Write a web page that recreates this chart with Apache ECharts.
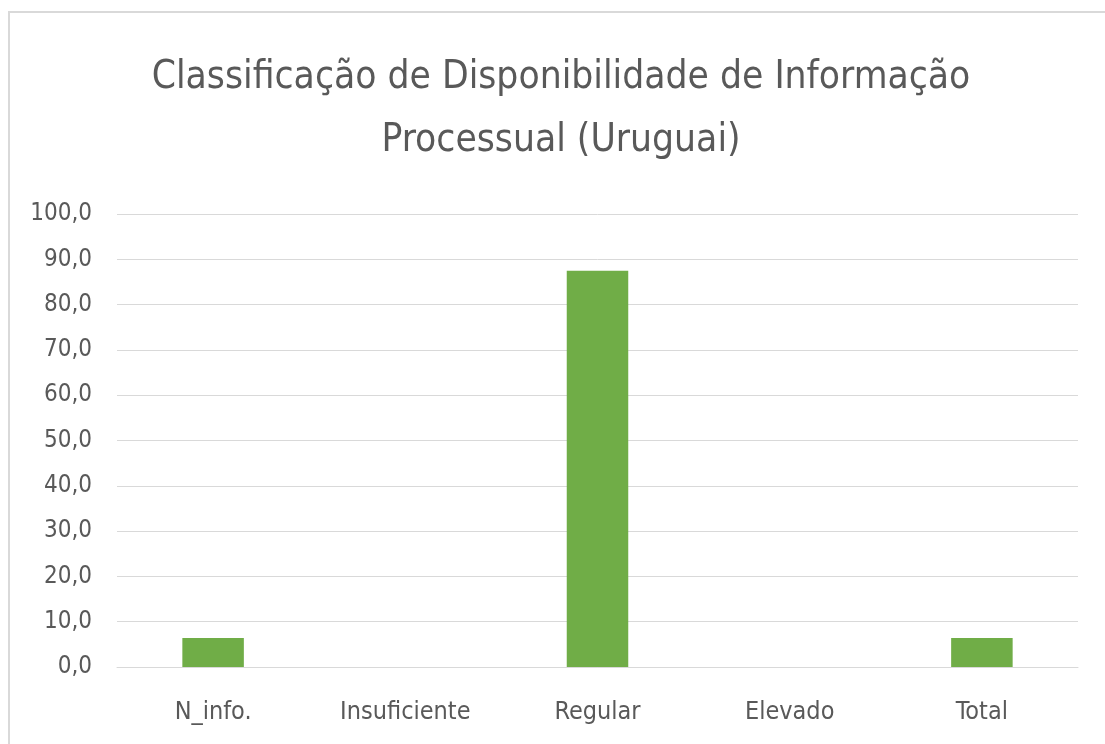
<!DOCTYPE html>
<html>
<head>
<meta charset="utf-8">
<script src="https://cdn.jsdelivr.net/npm/echarts@6/dist/echarts.min.js"></script>
<style>
  html, body { margin: 0; padding: 0; background: #fff; }
  #chart { width: 1105px; height: 744px; }
</style>
</head>
<body>
<div id="chart"></div>
<script>
// Classificação de disponibilidade de informação processual – Uruguai (%)
const titleText = 'Classificação de Disponibilidade de Informação\nProcessual (Uruguai)';
const categories = ['N_info.', 'Insuficiente', 'Regular', 'Elevado', 'Total'];
const values = [6.4, 0, 87.5, 0, 6.4];
const yTicks = { min: 0, max: 100, step: 10 };

const FONT = '"Liberation Sans Narrow", "DejaVu Sans Condensed", sans-serif';
const chart = echarts.init(document.getElementById('chart'));

chart.setOption({
  animation: false,
  backgroundColor: '#ffffff',
  graphic: [{
    type: 'rect',
    shape: { x: 9, y: 12, width: 1200, height: 800 },
    style: { fill: 'none', stroke: '#d9d9d9', lineWidth: 2 },
    silent: true
  }, {
    // chart title, centred over the plot area
    type: 'text',
    x: 561,
    y: 46,
    silent: true,
    style: {
      text: titleText,
      align: 'center',
      verticalAlign: 'top',
      fontFamily: FONT,
      fontSize: 38.6,
      fontWeight: 'normal',
      fill: '#595959',
      lineHeight: 63
    }
  }],
  grid: { left: 117, right: 27, top: 214, bottom: 77, containLabel: false },
  xAxis: {
    type: 'category',
    data: categories,
    axisLine: { show: true, lineStyle: { color: '#d9d9d9', width: 1 } },
    axisTick: { show: false },
    axisLabel: {
      fontFamily: FONT, fontSize: 25, color: '#595959', margin: 33
    }
  },
  yAxis: {
    type: 'value',
    min: yTicks.min,
    max: yTicks.max,
    interval: yTicks.step,
    axisLine: { show: false },
    axisTick: { show: false },
    splitLine: { lineStyle: { color: '#d9d9d9', width: 1 } },
    axisLabel: {
      fontFamily: FONT, fontSize: 24, color: '#595959', margin: 25,
      formatter: v => v.toFixed(1).replace('.', ',')
    }
  },
  series: [{
    type: 'bar',
    data: values,
    barWidth: '32%',
    itemStyle: { color: '#70ad47' }
  }]
});
</script>
</body>
</html>
